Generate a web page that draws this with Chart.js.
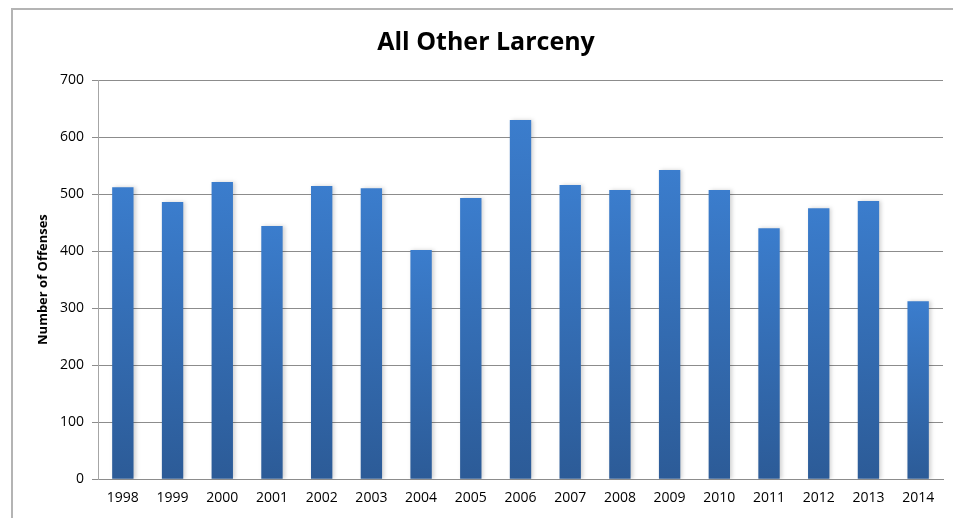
<!DOCTYPE html>
<html>
<head>
<meta charset="utf-8">
<title>All Other Larceny</title>
<script src="https://cdn.jsdelivr.net/npm/chart.js@4"></script>
<style>
  html, body { margin: 0; padding: 0; background: #fff; overflow: hidden; }
  #wrap { position: relative; width: 953px; height: 518px; }
  #frame {
    position: absolute; left: 11px; top: 8px; width: 960px; height: 600px;
    border-left: 2px solid #b4b4b4; border-top: 2px solid #b4b4b4;
    pointer-events: none;
  }
</style>
</head>
<body>
<div id="wrap">
  <canvas id="chart" width="953" height="518"></canvas>
  <div id="frame"></div>
</div>
<script>
// ---------- Data ----------

const years = ["1998","1999","2000","2001","2002","2003","2004","2005","2006",
               "2007","2008","2009","2010","2011","2012","2013","2014"];

const offenses = [512, 486, 521, 444, 514, 510, 402, 493, 630,
                  516, 507, 542, 507, 440, 475, 488, 312];

const yTicks = [0, 100, 200, 300, 400, 500, 600, 700];

const FONT = "'Open Sans', 'Liberation Sans', sans-serif";

// per-bar vertical gradient (lighter on top, darker at base)
function barFill(context) {
  const chart = context.chart;
  if (!chart.chartArea || context.dataIndex === undefined) return "#3470bb";
  const y = chart.scales.y;
  const top = y.getPixelForValue(context.raw);
  const base = y.getPixelForValue(0);
  const g = chart.ctx.createLinearGradient(0, top, 0, base);
  g.addColorStop(0, "#3b7dcd");
  g.addColorStop(1, "#2c5b97");
  return g;
}

// soft shadow to the right of each bar
const barShadow = {
  id: "barShadow",
  beforeDatasetDraw(chart) {
    chart.ctx.save();
    chart.ctx.shadowColor = "rgba(0,0,0,0.18)";
    chart.ctx.shadowBlur = 4;
    chart.ctx.shadowOffsetX = 2;
    chart.ctx.shadowOffsetY = 0;
  },
  afterDatasetDraw(chart) {
    chart.ctx.restore();
  }
};

const ctx = document.getElementById("chart");

new Chart(ctx, {
  type: "bar",
  data: {
    labels: years,
    datasets: [{
      label: "Number of Offenses",
      data: offenses,
      backgroundColor: barFill,
      borderWidth: 0,
      barPercentage: 0.43,
      categoryPercentage: 1.0
    }]
  },
  plugins: [barShadow],
  options: {
    responsive: false,
    animation: false,
    events: [],
    layout: { padding: { top: 14, right: 10, bottom: 2, left: 29 } },
    plugins: {
      legend: { display: false },
      tooltip: { enabled: false },
      title: {
        display: true,
        text: "All Other Larceny",
        color: "#000",
        font: { family: FONT, size: 25, weight: "bold" },
        padding: { top: 14, bottom: 22 }
      }
    },
    scales: {
      x: {
        grid: { display: false, drawTicks: false },
        border: { display: true, color: "#8c8c8c", width: 1 },
        ticks: {
          color: "#000",
          font: { family: FONT, size: 14 },
          padding: 10,
          maxRotation: 0,
          autoSkip: false
        }
      },
      y: {
        min: 0,
        max: 700,
        afterBuildTicks(scale) {
          scale.ticks = yTicks.map(v => ({ value: v }));
        },
        afterFit(scale) { scale.width = 69; },
        grid: {
          color: "#8c8c8c",
          lineWidth: 1,
          drawTicks: true,
          tickLength: 6
        },
        border: { display: true, color: "#a6a6a6", width: 1 },
        ticks: {
          color: "#000",
          font: { family: FONT, size: 14 },
          padding: 8
        },
        title: {
          display: true,
          text: "Number of Offenses",
          color: "#000",
          font: { family: FONT, size: 13, weight: "bold" },
          padding: { top: 6, bottom: 4 }
        }
      }
    }
  }
});
</script>
</body>
</html>
